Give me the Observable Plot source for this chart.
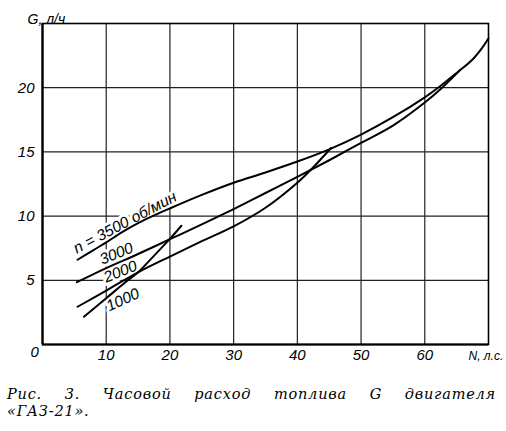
<!DOCTYPE html>
<html>
<head>
<meta charset="utf-8">
<script src="https://cdn.jsdelivr.net/npm/d3@7"></script>
<script src="https://cdn.jsdelivr.net/npm/@observablehq/plot@0.6"></script>
<style>
  html, body { margin: 0; padding: 0; background: white; }
  #chart svg { display: block; }
  #chart svg text { font-style: italic; }
  .cap { font-family: "DejaVu Serif", "Liberation Serif", serif; font-style: italic; font-size: 14.5px;
         letter-spacing: 0.8px; line-height: 17px; color: #000; padding-left: 7px; width: 489px; margin-top: 6px; }
  .l1 { text-align: justify; text-align-last: justify; white-space: nowrap; }
</style>
</head>
<body>
<div id="chart"></div>
<div class="cap"><div class="l1">Рис. 3. Часовой расход топлива G двигателя</div><div>«ГАЗ-21».</div></div>
<script>
// Curves: N (hp) vs G (l/h) for engine speeds
const N3500 = [5.5, 8, 10, 12.5, 15, 17.5, 20, 25, 30, 35, 40, 45, 50, 55, 60, 62.5, 65, 67.5, 69, 70];
const G3500 = [6.6, 7.35, 7.95, 8.75, 9.45, 10.05, 10.6, 11.65, 12.6, 13.4, 14.25, 15.2, 16.35, 17.7, 19.25, 20.15, 21.15, 22.2, 23.1, 23.85];
const N3000 = [5.4, 10, 15, 20, 25, 30, 35, 40, 45, 50, 55, 60, 62.5, 65.5];
const G3000 = [4.85, 5.95, 7.05, 8.2, 9.35, 10.55, 11.8, 13.05, 14.35, 15.7, 17.05, 18.85, 19.9, 21.35];
const N2000 = [5.5, 10, 15, 20, 25, 30, 35, 40, 42, 44, 45.3];
const G2000 = [2.94, 4.2, 5.62, 6.85, 8.05, 9.2, 10.65, 12.6, 13.55, 14.6, 15.3];
const N1000 = [6.5, 10, 13, 15.1, 17, 19, 20.1, 21.8];
const G1000 = [2.16, 3.6, 4.85, 5.67, 6.65, 7.7, 8.28, 9.25];

const rpms = ["3500", "3000", "2000", "1000"];
const labelTexts = ["n = 3500 об/мин", "3000", "2000", "1000"];
const labelN = [12.95, 11.6, 12.24, 12.6];
const labelG = [9.5, 7.08, 5.67, 3.48];
const labelAngle = [-28, -22, -22, -25];

const xTicks = [10, 20, 30, 40, 50, 60];
const yTicks = [5, 10, 15, 20];
const xTitle = "N, л.с.";
const yTitle = "G, л/ч";
const originLabel = "0";

const series = [[N3500, G3500], [N3000, G3000], [N2000, G2000], [N1000, G1000]];
const curves = series.flatMap(([ns, gs], i) => ns.map((n, j) => ({rpm: rpms[i], N: n, G: gs[j]})));
const labels = labelTexts.map((t, i) => ({text: t, N: labelN[i], G: labelG[i], a: labelAngle[i]}));

const font = '"Liberation Sans Narrow", "Liberation Sans", "DejaVu Sans", sans-serif';
const it = {fontStyle: "italic"};

const chart = Plot.plot({
  width: 506,
  height: 380,
  marginLeft: 42,
  marginRight: 18,
  marginTop: 23,
  marginBottom: 36,
  x: {domain: [0, 70]},
  y: {domain: [0, 25]},
  style: {fontFamily: font, fontSize: "14px", background: "white", color: "black"},
  marks: [
    Plot.ruleX(xTicks, {stroke: "#222", strokeWidth: 1.2}),
    Plot.ruleY(yTicks, {stroke: "#222", strokeWidth: 1.2}),
    Plot.frame({stroke: "black", strokeWidth: 1.6}),
    Plot.ruleX([0], {stroke: "black", strokeWidth: 2.2}),
    Plot.ruleY([0], {stroke: "black", strokeWidth: 2.2}),
    Plot.text(labels, {x: "N", y: "G", text: "text", rotate: "a", fill: "black", stroke: "white", strokeWidth: 6, fontSize: 15.5, ...it}),
    Plot.line(curves, {x: "N", y: "G", z: "rpm", curve: "catmull-rom", stroke: "black", strokeWidth: 2}),
    Plot.axisX(xTicks, {tickSize: 0, tickPadding: 5, label: null, fontSize: 15, ...it}),
    Plot.axisY(yTicks, {tickSize: 0, tickPadding: 8, label: null, fontSize: 15, ...it}),
    Plot.text([originLabel], {frameAnchor: "bottom-left", dx: -12, dy: 12, fontSize: 15, ...it}),
    Plot.text([yTitle], {frameAnchor: "top-left", textAnchor: "start", dx: -15, dy: -9, fontSize: 14, ...it}),
    Plot.text([xTitle], {frameAnchor: "bottom-right", textAnchor: "start", dx: -20, dy: 15, fontSize: 12, ...it})
  ]
});
document.getElementById("chart").appendChild(chart);
</script>
</body>
</html>
